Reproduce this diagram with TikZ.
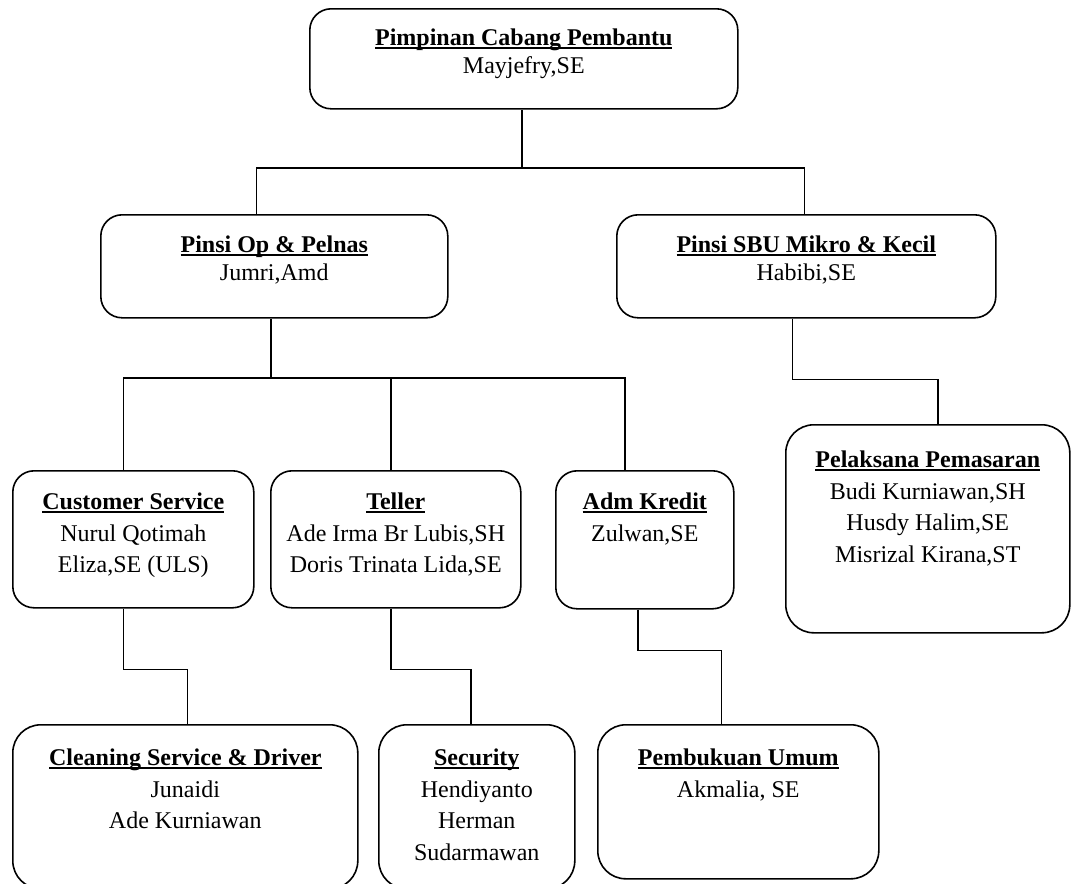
\documentclass[tikz,border=0pt]{standalone}
\usepackage{fontspec}
\setmainfont{Liberation Serif}
\usetikzlibrary{calc}

\newlength{\px}
\setlength{\px}{0.75pt}
% bold title with a word-style underline
\newcommand{\headline}[1]{\setbox0\hbox{\bfseries #1}\rlap{\rule[-3\px]{\wd0}{1.6\px}}\box0}
% width, height, first baseline, title, names
\newcommand{\boxtext}[5]{\parbox[t][#2\px][t]{#1\px}{\centering\rule{0pt}{#3\px}\headline{#4}\\#5}}

\begin{document}
\begin{tikzpicture}[%
		x=0.75pt, y=-0.75pt,
		unit/.style={draw, line width=1.2pt, rounded corners=16pt, inner sep=0pt, anchor=north west,
			font=\fontsize{18pt}{23.6pt}\selectfont},
		tight/.style={font=\fontsize{18pt}{20.6pt}\selectfont},
		wide/.style={rounded corners=21pt},
		link/.style={draw, line width=1.2pt}
		]

		%% helper grid, uncomment to show
		%\draw [thin,purple,opacity=0.5,step=50] (0,0) grid (1072,883);

		\useasboundingbox (0,0) rectangle (1072,883);

		\node[unit, tight] (top) at (309,8) {\boxtext{428}{100}{37}{Pimpinan Cabang Pembantu}{Mayjefry,SE}};

		\node[unit, tight] (opn) at (100,214) {\boxtext{347}{103}{38}{Pinsi Op \& Pelnas}{Jumri,Amd}};
		\node[unit, tight] (sbu) at (616,214) {\boxtext{379}{103}{38}{Pinsi SBU Mikro \& Kecil}{Habibi,SE}};

		\node[unit] (cs) at (12,470) {\boxtext{241}{137}{39}{Customer Service}{Nurul Qotimah\\Eliza,SE (ULS)}};
		\node[unit] (tel) at (270,470) {\boxtext{250}{137}{39}{Teller}{Ade Irma Br Lubis,SH\\Doris Trinata Lida,SE}};
		\node[unit] (adm) at (555,470) {\boxtext{178}{138}{39}{Adm Kredit}{Zulwan,SE}};
		\node[unit, wide] (pel) at (785,424) {\boxtext{284}{208}{43}{Pelaksana Pemasaran}{Budi Kurniawan,SH\\Husdy Halim,SE\\Misrizal Kirana,ST}};

		\node[unit, wide] (cln) at (12,724) {\boxtext{345}{164}{41}{Cleaning Service \& Driver}{Junaidi\\Ade Kurniawan}};
		\node[unit, wide] (sec) at (378,724) {\boxtext{196}{164}{41}{Security}{Hendiyanto\\Herman\\Sudarmawan}};
		\node[unit, wide] (pmb) at (597,724) {\boxtext{281}{154}{41}{Pembukuan Umum}{Akmalia, SE}};

		%% connectors
		\coordinate (hub1) at (522,168);
		\draw[link] (hub1) -- (hub1 |- top.south);
		\draw[link] ($(opn.north)+(-18,0)$) |- (hub1) -| ($(sbu.north)+(-2,0)$);

		\coordinate (hub2) at (271,378);
		\draw[link] (hub2) -- (hub2 |- opn.south);
		\draw[link] ($(cs.north)+(-10,0)$) |- (hub2) -| ($(adm.north)+(-20,0)$);
		\draw[link] ($(tel.north)+(-5,0)$) -- ++(0,-92);

		\draw[link] ($(sbu.south)+(-14,0)$) -- ++(0,61) -| ($(pel.north)+(10,0)$);

		\draw[link] ($(cs.south)+(-10,0)$) -- ++(0,61) -| ($(cln.north)+(2,0)$);
		\draw[link] ($(tel.south)+(-5,0)$) -- ++(0,61) -| ($(sec.north)+(-6,0)$);
		\draw[link] ($(adm.south)+(-7,0)$) -- ++(0,41) -| ($(pmb.north)+(-17,0)$);
	\end{tikzpicture}
\end{document}
